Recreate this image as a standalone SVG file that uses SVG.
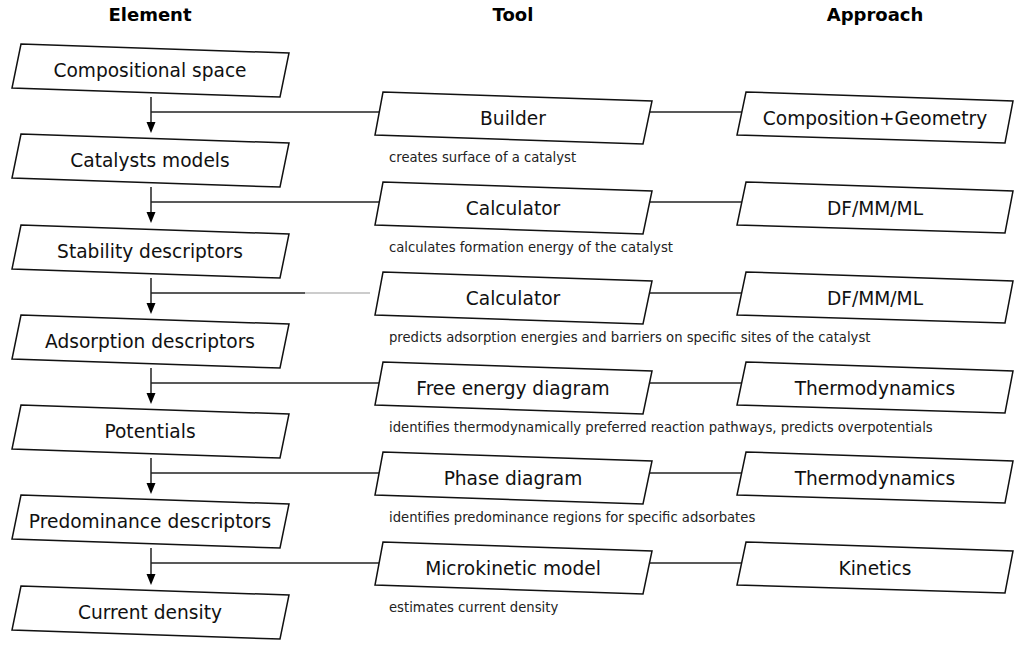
<svg xmlns="http://www.w3.org/2000/svg" width="1024" height="649" viewBox="0 0 1024 649">
<defs>
<style>
.box{fill:#fff;stroke:#111;stroke-width:1.5;stroke-linejoin:miter}
.lbl{font-family:"DejaVu Sans",Verdana,sans-serif;font-size:18.6px;fill:#111;text-anchor:middle}
.hdr{font-family:"DejaVu Sans",Verdana,sans-serif;font-size:18px;font-weight:bold;fill:#000;text-anchor:middle}
.desc{font-family:"DejaVu Sans",Verdana,sans-serif;font-size:13.2px;fill:#222}
.ln{stroke:#222;stroke-width:1.5;fill:none}
.ln2{stroke:#999;stroke-width:1.2;fill:none}
</style>
<path id="ah" d="M-4.5,-11 L4.5,-11 L0,0 Z" fill="#000"/>
<polygon id="ebox" points="21,0 289,9 280,53 12,44"/>
<polygon id="tbox" points="383,0 652,9 643,52 375,43"/>
<polygon id="abox" points="746,0 1013,9 1005,51 737,43"/>
</defs>
<rect width="1024" height="649" fill="#fff"/>
<g id="headers">
<text class="hdr" x="150" y="21">Element</text>
<text class="hdr" x="513" y="21">Tool</text>
<text class="hdr" x="875" y="21">Approach</text>
</g>
<g id="connectors">
<g id="c1"><line class="ln" x1="151" y1="97" x2="151" y2="125"/><use href="#ah" x="151" y="133"/><line class="ln" x1="151" y1="112" x2="380" y2="112"/><line class="ln" x1="650" y1="112" x2="742" y2="112"/></g>
<g id="c2"><line class="ln" x1="151" y1="187" x2="151" y2="215"/><use href="#ah" x="151" y="223"/><line class="ln" x1="151" y1="202" x2="380" y2="202"/><line class="ln" x1="650" y1="202" x2="742" y2="202"/></g>
<g id="c3"><line class="ln" x1="151" y1="278" x2="151" y2="306"/><use href="#ah" x="151" y="314"/><line class="ln" x1="151" y1="293" x2="305" y2="293"/><line class="ln2" x1="305" y1="293" x2="370" y2="293"/><line class="ln" x1="650" y1="293" x2="742" y2="293"/></g>
<g id="c4"><line class="ln" x1="151" y1="368" x2="151" y2="396"/><use href="#ah" x="151" y="404"/><line class="ln" x1="151" y1="383" x2="380" y2="383"/><line class="ln" x1="650" y1="383" x2="742" y2="383"/></g>
<g id="c5"><line class="ln" x1="151" y1="458" x2="151" y2="486"/><use href="#ah" x="151" y="494"/><line class="ln" x1="151" y1="473" x2="380" y2="473"/><line class="ln" x1="650" y1="473" x2="742" y2="473"/></g>
<g id="c6"><line class="ln" x1="151" y1="548" x2="151" y2="576"/><use href="#ah" x="151" y="585"/><line class="ln" x1="151" y1="563" x2="380" y2="563"/><line class="ln" x1="650" y1="563" x2="742" y2="563"/></g>
</g>
<g id="e1" transform="translate(0,44)"><use href="#ebox" class="box"/><text class="lbl" x="150" y="33">Compositional space</text></g>
<g id="e2" transform="translate(0,134)"><use href="#ebox" class="box"/><text class="lbl" x="150" y="33">Catalysts models</text></g>
<g id="e3" transform="translate(0,225)"><use href="#ebox" class="box"/><text class="lbl" x="150" y="33">Stability descriptors</text></g>
<g id="e4" transform="translate(0,315)"><use href="#ebox" class="box"/><text class="lbl" x="150" y="33">Adsorption descriptors</text></g>
<g id="e5" transform="translate(0,405)"><use href="#ebox" class="box"/><text class="lbl" x="150" y="33">Potentials</text></g>
<g id="e6" transform="translate(0,495)"><use href="#ebox" class="box"/><text class="lbl" x="150" y="33">Predominance descriptors</text></g>
<g id="e7" transform="translate(0,586)"><use href="#ebox" class="box"/><text class="lbl" x="150" y="33">Current density</text></g>
<g id="t1" transform="translate(0,92)"><use href="#tbox" class="box"/><text class="lbl" x="513" y="33">Builder</text><text class="desc" x="389" y="70">creates surface of a catalyst</text></g>
<g id="t2" transform="translate(0,182)"><use href="#tbox" class="box"/><text class="lbl" x="513" y="33">Calculator</text><text class="desc" x="389" y="70">calculates formation energy of the catalyst</text></g>
<g id="t3" transform="translate(0,272)"><use href="#tbox" class="box"/><text class="lbl" x="513" y="33">Calculator</text><text class="desc" x="389" y="70">predicts adsorption energies and barriers on specific sites of the catalyst</text></g>
<g id="t4" transform="translate(0,362)"><use href="#tbox" class="box"/><text class="lbl" x="513" y="33">Free energy diagram</text><text class="desc" x="389" y="70">identifies thermodynamically preferred reaction pathways, predicts overpotentials</text></g>
<g id="t5" transform="translate(0,452)"><use href="#tbox" class="box"/><text class="lbl" x="513" y="33">Phase diagram</text><text class="desc" x="389" y="70">identifies predominance regions for specific adsorbates</text></g>
<g id="t6" transform="translate(0,542)"><use href="#tbox" class="box"/><text class="lbl" x="513" y="33">Microkinetic model</text><text class="desc" x="389" y="70">estimates current density</text></g>
<g id="a1" transform="translate(0,92)"><use href="#abox" class="box"/><text class="lbl" x="875" y="33">Composition+Geometry</text></g>
<g id="a2" transform="translate(0,182)"><use href="#abox" class="box"/><text class="lbl" x="875" y="33">DF/MM/ML</text></g>
<g id="a3" transform="translate(0,272)"><use href="#abox" class="box"/><text class="lbl" x="875" y="33">DF/MM/ML</text></g>
<g id="a4" transform="translate(0,362)"><use href="#abox" class="box"/><text class="lbl" x="875" y="33">Thermodynamics</text></g>
<g id="a5" transform="translate(0,452)"><use href="#abox" class="box"/><text class="lbl" x="875" y="33">Thermodynamics</text></g>
<g id="a6" transform="translate(0,542)"><use href="#abox" class="box"/><text class="lbl" x="875" y="33">Kinetics</text></g>
</svg>
